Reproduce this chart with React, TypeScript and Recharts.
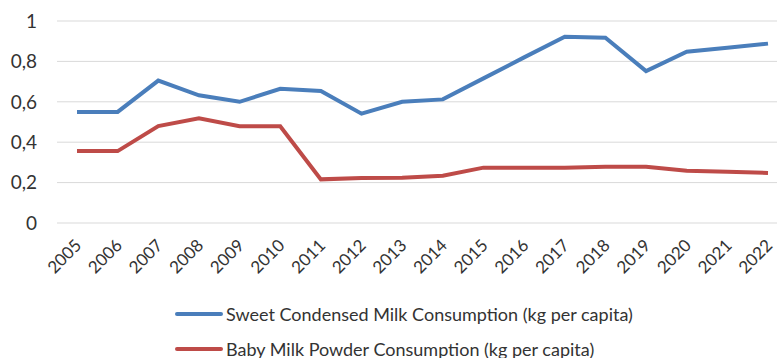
import React from "react";
import { LineChart, Line, XAxis, YAxis, CartesianGrid, Legend } from "recharts";

const years = ["2005","2006","2007","2008","2009","2010","2011","2012","2013","2014","2015","2016","2017","2018","2019","2020","2021","2022"];
const condensed = [0.55,0.55,0.705,0.632,0.6,0.664,0.653,0.541,0.6,0.612,0.716,0.82,0.922,0.917,0.752,0.848,0.868,0.888];
const babyPowder = [0.356,0.356,0.48,0.518,0.479,0.479,0.216,0.223,0.224,0.234,0.274,0.274,0.274,0.279,0.279,0.259,0.254,0.248];
const yTicks = [0, 0.2, 0.4, 0.6, 0.8, 1];

const seriesKeys = ["condensed", "babyPowder"];
const seriesNames = {
  condensed: "Sweet Condensed Milk Consumption (kg per capita)",
  babyPowder: "Baby Milk Powder Consumption (kg per capita)",
};

const data = years.map((y, i) => ({ year: y, condensed: condensed[i], babyPowder: babyPowder[i] }));

const FONT = "Lato, 'Open Sans', sans-serif";
const TEXT = "#333333";

const LegendContent = (props: any) => {
  const payload = [...(props.payload || [])].sort(
    (a: any, b: any) => seriesKeys.indexOf(a.dataKey) - seriesKeys.indexOf(b.dataKey)
  );
  return (
    <div style={{ paddingLeft: 175, paddingTop: 8, fontFamily: FONT, fontSize: 18, color: TEXT }}>
      {payload.map((p: any, i: number) => (
        <div key={i} style={{ display: "flex", alignItems: "center", height: 35 }}>
          <div style={{ width: 48, height: 4, borderRadius: 2, background: p.color, marginRight: 3 }} />
          <span>{p.value}</span>
        </div>
      ))}
    </div>
  );
};

export default function App() {
  return (
    <div style={{ position: "absolute", left: 0, top: 0, width: 777, height: 358, overflow: "hidden", background: "#fff" }}>
      <LineChart width={800} height={358} data={data} margin={{ top: 21, right: 12, bottom: 0, left: 0 }}>
        <CartesianGrid vertical={false} stroke="#d9d9d9" strokeWidth={1} />
        <XAxis
          dataKey="year"
          axisLine={false}
          tickLine={false}
          tickSize={0}
          tickMargin={15}
          angle={-45}
          textAnchor="end"
          interval={0}
          height={65}
          padding={{ left: 20, right: 20 }}
          tick={{ fontFamily: FONT, fontSize: 17, fill: TEXT, dx: -3 }}
        />
        <YAxis
          domain={[0, 1]}
          ticks={yTicks}
          axisLine={false}
          tickLine={false}
          tickSize={0}
          tickMargin={20}
          width={57}
          tickFormatter={(v: number) => String(v).replace(".", ",")}
          tick={{ fontFamily: FONT, fontSize: 19, fill: TEXT }}
        />
        <Legend verticalAlign="bottom" height={70} content={<LegendContent />} />
        <Line type="linear" dataKey="condensed" name={seriesNames.condensed} stroke="#4A7EBB" strokeWidth={4} dot={false} isAnimationActive={false} />
        <Line type="linear" dataKey="babyPowder" name={seriesNames.babyPowder} stroke="#BE4B48" strokeWidth={4} dot={false} isAnimationActive={false} />
      </LineChart>
    </div>
  );
}
